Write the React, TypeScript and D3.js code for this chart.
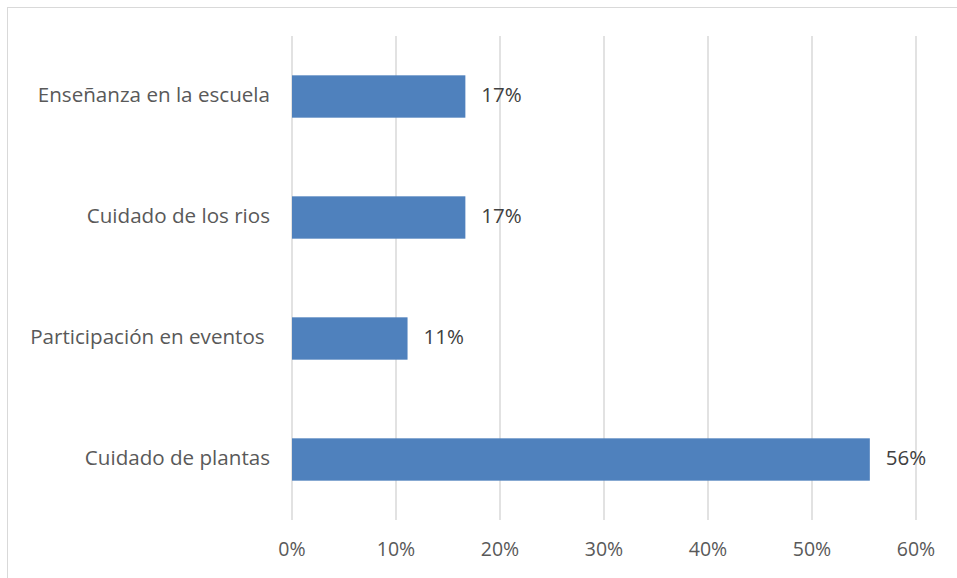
import React from 'react';
import * as d3 from 'd3';

const categories = [
  'Enseñanza en la escuela',
  'Cuidado de los rios',
  'Participación en eventos ',
  'Cuidado de plantas',
];
const values = [0.1667, 0.1667, 0.1111, 0.5556];
const valueLabels = ['17%', '17%', '11%', '56%'];
const xTicks = [0, 0.1, 0.2, 0.3, 0.4, 0.5, 0.6];

const WIDTH = 957;
const HEIGHT = 578;
const FONT = '"Open Sans", "Noto Sans", sans-serif';

export default function App() {
  const margin = { top: 36, right: 41, bottom: 58, left: 292 };
  const innerWidth = WIDTH - margin.left - margin.right;
  const innerHeight = HEIGHT - margin.top - margin.bottom;

  const x = d3.scaleLinear().domain([0, 0.6]).range([0, innerWidth]);
  const y = d3
    .scaleBand<string>()
    .domain(categories)
    .range([0, innerHeight])
    .paddingInner(0.65)
    .paddingOuter(0.325);

  const fmt = d3.format('.0%');

  return (
    <svg
      width={WIDTH}
      height={HEIGHT}
      style={{ position: 'absolute', left: 0, top: 0, background: '#fff' }}
      fontFamily={FONT}
    >
      <rect x={7.5} y={7.5} width={WIDTH} height={HEIGHT} fill="#fff" stroke="#d9d9d9" strokeWidth={1} />
      <g transform={`translate(${margin.left},${margin.top})`}>
        {xTicks.map((t) => (
          <g key={t} transform={`translate(${x(t)},0)`}>
            <line y1={0} y2={innerHeight} stroke="#d9d9d9" strokeWidth={1.5} />
            <text y={innerHeight + 31} textAnchor="middle" dominantBaseline="middle" fill="#595959" fontSize={19.5}>
              {fmt(t)}
            </text>
          </g>
        ))}
        {categories.map((c, i) => (
          <g key={c}>
            <rect x={x(0)} y={y(c)} width={x(values[i]) - x(0)} height={y.bandwidth()} fill="#4f81bd" />
            <text
              x={-22}
              y={(y(c) ?? 0) + y.bandwidth() / 2}
              textAnchor="end"
              dominantBaseline="middle"
              fill="#595959"
              fontSize={20.6}
              style={{ whiteSpace: 'pre' }}
            >
              {c}
            </text>
            <text
              x={x(values[i]) + 16}
              y={(y(c) ?? 0) + y.bandwidth() / 2}
              dominantBaseline="middle"
              fill="#404040"
              fontSize={20.5}
            >
              {valueLabels[i]}
            </text>
          </g>
        ))}
      </g>
    </svg>
  );
}
